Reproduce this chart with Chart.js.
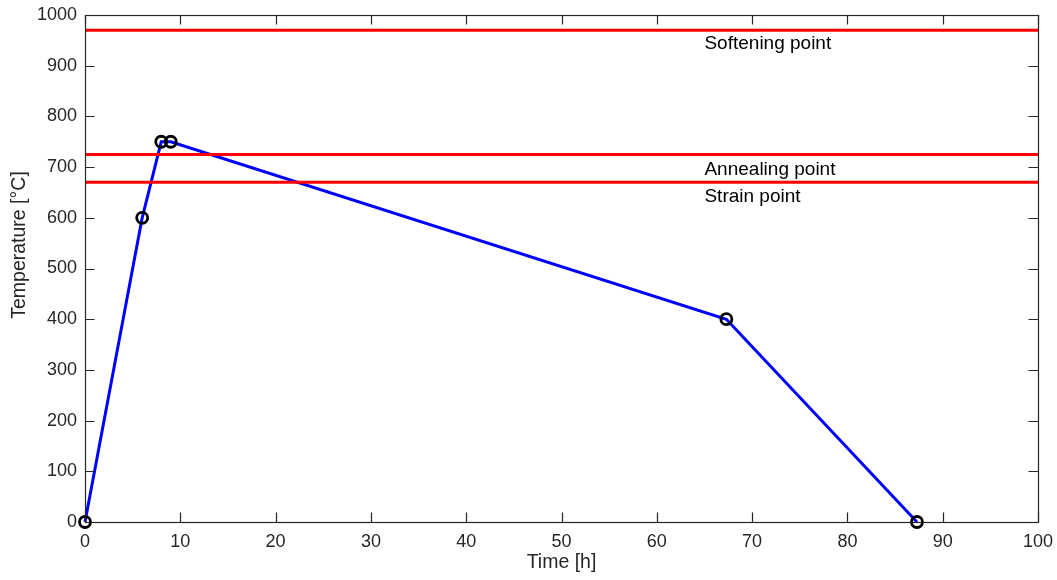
<!DOCTYPE html>
<html>
<head>
<meta charset="utf-8">
<script src="https://cdn.jsdelivr.net/npm/chart.js@4.4.0/dist/chart.umd.min.js"></script>
<style>
html,body{margin:0;padding:0;background:#fff;}
#wrap{width:1057px;height:580px;position:relative;}
</style>
</head>
<body>
<div id="wrap"><canvas id="c" width="1057" height="580"></canvas></div>
<script>
// ---- data ----
const timeHours = [0, 6, 8, 9, 67.3, 87.3];
const temperatureC = [0, 600, 750, 750, 400, 0];
const refNames = ['Softening point', 'Annealing point', 'Strain point'];
const refValues = [970, 725, 670];
const refLabelX = 65;
const refLabelY = [943, 695, 641];
const xRange = [0, 100];
const yRange = [0, 1000];
const xTitle = 'Time [h]';
const yTitle = 'Temperature [°C]';

const FONT = "'Liberation Sans', Arial, Helvetica, sans-serif";
const AXIS_COLOR = '#262626';

const refDatasets = refValues.map((v, i) => ({
  label: refNames[i],
  data: xRange.map(x => ({x: x, y: v})),
  borderColor: '#ff0000',
  borderWidth: 3,
  pointRadius: 0,
  fill: false,
  order: 0
}));

const profile = {
  label: 'Profile',
  data: timeHours.map((t, i) => ({x: t, y: temperatureC[i]})),
  borderColor: '#0000ff',
  borderWidth: 3,
  pointRadius: 5.5,
  pointBorderWidth: 2.8,
  pointBorderColor: '#000000',
  pointBackgroundColor: 'rgba(0,0,0,0)',
  fill: false,
  clip: false,
  order: 1
};

const decor = {
  id: 'decor',
  afterDraw(chart) {
    const ctx = chart.ctx;
    const a = chart.chartArea;
    const xs = chart.scales.x, ys = chart.scales.y;
    ctx.save();
    // box
    ctx.strokeStyle = AXIS_COLOR;
    ctx.lineWidth = 1.2;
    ctx.strokeRect(Math.round(a.left) + 0.5, Math.round(a.top) + 0.5,
                   Math.round(a.right) - Math.round(a.left), Math.round(a.bottom) - Math.round(a.top));
    // inward ticks
    const TL = 9.5;
    ctx.beginPath();
    xs.ticks.forEach(t => {
      const px = Math.round(xs.getPixelForValue(t.value)) + 0.5;
      ctx.moveTo(px, a.bottom); ctx.lineTo(px, a.bottom - TL);
      ctx.moveTo(px, a.top); ctx.lineTo(px, a.top + TL);
    });
    ys.ticks.forEach(t => {
      const py = Math.round(ys.getPixelForValue(t.value)) + 0.5;
      ctx.moveTo(a.left, py); ctx.lineTo(a.left + TL, py);
      ctx.moveTo(a.right, py); ctx.lineTo(a.right - TL, py);
    });
    ctx.stroke();
    // reference labels
    ctx.fillStyle = '#000000';
    ctx.font = '19px ' + FONT;
    ctx.textAlign = 'left';
    ctx.textBaseline = 'middle';
    refNames.forEach((n, i) => {
      ctx.fillText(n, xs.getPixelForValue(refLabelX), ys.getPixelForValue(refLabelY[i]));
    });
    // y title
    ctx.fillStyle = AXIS_COLOR;
    ctx.font = '19.5px ' + FONT;
    ctx.textAlign = 'center';
    ctx.translate(20, 245);
    ctx.rotate(-Math.PI / 2);
    ctx.fillText(yTitle, 0, 0);
    ctx.restore();
  }
};

new Chart(document.getElementById('c'), {
  type: 'line',
  data: { datasets: [...refDatasets, profile] },
  options: {
    responsive: false,
    animation: false,
    layout: { padding: { left: 0, right: 19, top: 15, bottom: 0 } },
    plugins: { legend: { display: false }, tooltip: { enabled: false } },
    scales: {
      x: {
        type: 'linear',
        min: xRange[0], max: xRange[1],
        grid: { display: false, drawTicks: false },
        border: { display: false },
        ticks: { stepSize: 10, color: AXIS_COLOR, font: { family: FONT, size: 18 }, padding: 9, maxRotation: 0,
                 callback: v => String(v) },
        title: { display: true, text: xTitle, color: AXIS_COLOR, font: { family: FONT, size: 19.5 }, padding: { top: 0, bottom: 6 } },
        afterFit(s) { s.height = 58; s.paddingLeft = 0; s.paddingRight = 0; }
      },
      y: {
        type: 'linear',
        min: yRange[0], max: yRange[1],
        grid: { display: false, drawTicks: false },
        border: { display: false },
        ticks: { stepSize: 100, color: AXIS_COLOR, font: { family: FONT, size: 18 }, padding: 8,
                 callback: v => String(v) },
        afterFit(s) { s.width = 85; s.paddingTop = 0; s.paddingBottom = 0; }
      }
    }
  },
  plugins: [decor]
});
</script>
</body>
</html>
